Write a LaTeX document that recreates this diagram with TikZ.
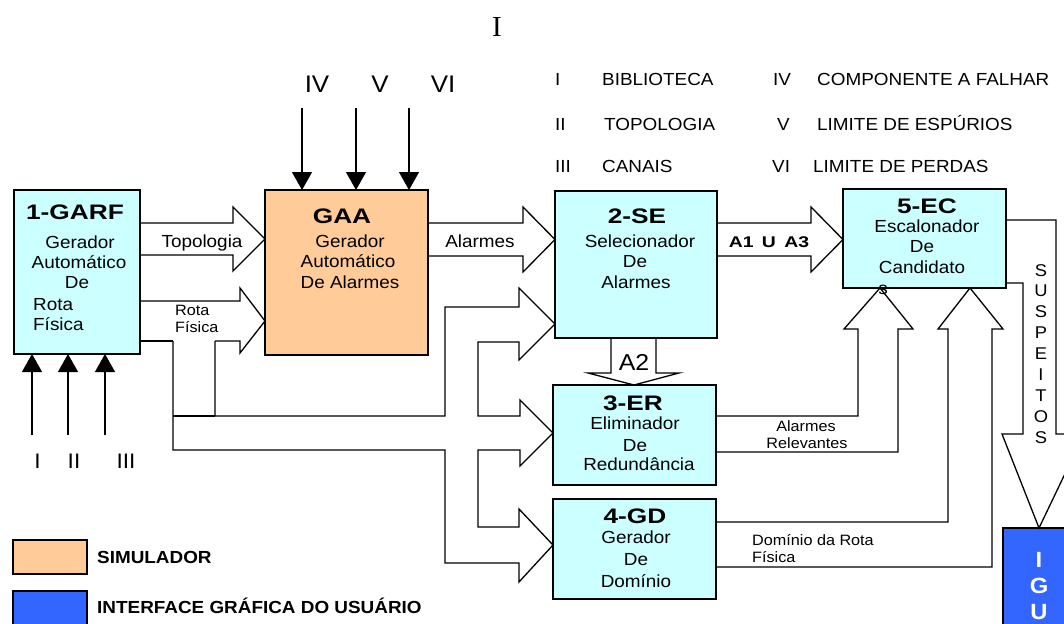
\documentclass[tikz,border=0pt]{standalone}
\usepackage{fontspec}
\setmainfont{Liberation Sans}[FakeStretch=1.08]
\newfontfamily\hdfont{Liberation Sans}[FakeStretch=1.25]
\newfontfamily\titlefont{Liberation Serif}
\usetikzlibrary{arrows.meta}
\definecolor{cyanbox}{RGB}{204,255,255}
\definecolor{simorange}{RGB}{255,204,153}
\definecolor{igublue}{RGB}{51,102,255}
\begin{document}
\begin{tikzpicture}[x=1pt,y=-1pt,
  box/.style={draw=black,line width=1.6pt,inner sep=0pt,outer sep=0pt},
  fat/.style={draw=black,line width=1.3pt,line join=miter},
  inarrow/.style={draw=black,line width=1.3pt,-{Triangle[width=20pt,length=18pt]}},
  txt/.style={anchor=base,inner sep=0pt,font=\fontsize{17.5}{20}\selectfont},
  txtl/.style={txt,anchor=base west},
  hd/.style={anchor=base,inner sep=0pt,font=\hdfont\bfseries\fontsize{21}{24}\selectfont},
  sml/.style={anchor=base west,inner sep=0pt,font=\fontsize{15}{17}\selectfont},
  smc/.style={anchor=base,inner sep=0pt,font=\fontsize{15}{17}\selectfont},
  roman/.style={anchor=base,inner sep=0pt,font=\fontsize{24}{26}\selectfont},
  romansm/.style={anchor=base,inner sep=0pt,font=\fontsize{21}{23}\selectfont},
  legtxt/.style={anchor=base west,inner sep=0pt,font=\fontsize{17.5}{20}\selectfont},
  legbold/.style={anchor=base west,inner sep=0pt,font=\bfseries\fontsize{17.5}{20}\selectfont},
  igutxt/.style={anchor=base,inner sep=0pt,text=white,font=\bfseries\fontsize{22}{24}\selectfont},
  suspl/.style={anchor=base,inner sep=0pt,font=\fontsize{17}{19}\selectfont}
]
\clip (0,0) rectangle (1064,623);
\fill[white] (0,0) rectangle (1064,623);

% ---------- boxes ----------
\node[box,fill=cyanbox,minimum width=126pt,minimum height=164pt] (garf) at (77,272) {};
\node[box,fill=simorange,minimum width=163pt,minimum height=165pt] (gaa) at (346.5,272.5) {};
\node[box,fill=cyanbox,minimum width=162pt,minimum height=147pt] (se) at (636,264.5) {};
\node[box,fill=cyanbox,minimum width=163pt,minimum height=100pt] (er) at (634.5,435) {};
\node[box,fill=cyanbox,minimum width=163pt,minimum height=100pt] (gd) at (634.5,549) {};
\node[box,fill=cyanbox,minimum width=163pt,minimum height=99pt] (ec) at (924.5,238.5) {};
\node[box,fill=igublue,minimum width=73pt,minimum height=112pt] (igu) at (1039.5,584) {};
\node[box,fill=simorange,minimum width=74pt,minimum height=34pt] (legsim) at (50,557) {};
\node[box,fill=igublue,minimum width=74pt,minimum height=40pt] (legigu) at (50,611) {};

% ---------- box texts ----------
\node[hd] (garf-h) at (75,219) {1-GARF};
\node[txt] (garf-1) at (80,248) {Gerador};
\node[txt] (garf-2) at (79,268) {Automático};
\node[txt] (garf-3) at (77,288) {De};
\node[txtl] (garf-4) at (33,310) {Rota};
\node[txtl] (garf-5) at (33,330) {Física};

\node[hd] (gaa-h) at (342,223) {GAA};
\node[txt] (gaa-1) at (350,247) {Gerador};
\node[txt] (gaa-2) at (348,267) {Automático};
\node[txt] (gaa-3) at (350,288) {De Alarmes};

\node[hd] (se-h) at (637,223) {2-SE};
\node[txt] (se-1) at (640,247) {Selecionador};
\node[txt] (se-2) at (635,267) {De};
\node[txt] (se-3) at (636,288) {Alarmes};

\node[hd] (er-h) at (633,410) {3-ER};
\node[txt] (er-1) at (635,429) {Eliminador};
\node[txt] (er-2) at (635,451) {De};
\node[txt] (er-3) at (639,470) {Redundância};

\node[hd] (gd-h) at (635,523) {4-GD};
\node[txt] (gd-1) at (636,543) {Gerador};
\node[txt] (gd-2) at (636,565) {De};
\node[txt] (gd-3) at (636,587) {Domínio};

\node[hd] (ec-h) at (927,213) {5-EC};
\node[txt] (ec-1) at (927,232) {Escalonador};
\node[txt] (ec-2) at (922,252) {De};
\node[txt] (ec-3) at (922,273) {Candidato};
\node[txt] (ec-4) at (883,294) {s};

\node[igutxt] (igu-1) at (1039,567) {I};
\node[igutxt] (igu-2) at (1039,593) {G};
\node[igutxt] (igu-3) at (1039,619) {U};

% ---------- fat arrows ----------
% Topologia
\draw[fat] (garf.east |- 0,223) -- (233,223) -- (233,207) -- (gaa.west |- 0,239)
  -- (233,271) -- (233,255) -- (garf.east |- 0,255);
\node[txt] (l-topo) at (202,247) {Topologia};
% Rota Fisica
\draw[fat] (215,341) -- (240,341) -- (240,353) -- (gaa.west |- 0,321) -- (240,288)
  -- (240,301) -- (garf.east |- 0,301);
\draw[fat] (garf.east |- 0,341) -- (173,341);
\node[sml] (l-rota1) at (175,315) {Rota};
\node[sml] (l-rota2) at (175,332) {Física};
% branch to SE, ER, GD
\draw[fat] (215,341) -- (215,416) -- (445,416) -- (445,307) -- (519,307) -- (519,288)
  -- (se.west |- 0,324) -- (519,360) -- (519,342) -- (478,342) -- (478,416)
  -- (520,416) -- (520,400) -- (er.west |- 0,433) -- (520,466) -- (520,450)
  -- (478,450) -- (478,527) -- (519,527) -- (519,509) -- (gd.west |- 0,545)
  -- (519,582) -- (519,563) -- (445,563) -- (445,450) -- (173,450) -- (173,341);
\draw[fat] (173,416) -- (215,416);
% Alarmes
\draw[fat] (gaa.east |- 0,223) -- (523,223) -- (523,207) -- (se.west |- 0,239.5)
  -- (523,272) -- (523,256) -- (gaa.east |- 0,256);
\node[txt] (l-alarm) at (480,247) {Alarmes};
% A1 U A3
\draw[fat] (se.east |- 0,223) -- (811,223) -- (811,207) -- (ec.west |- 0,239.5)
  -- (811,272) -- (811,256) -- (se.east |- 0,256);
\node[anchor=base,inner sep=0pt,font=\hdfont\bfseries\fontsize{15.5}{17}\selectfont] (l-a13) at (769,247) {A1\hspace{3pt} U\hspace{3pt} A3};
% A2
\draw[fat] (se.south -| 611,0) -- (611,373) -- (588,373) -- (er.north -| 634,0)
  -- (679,373) -- (656,373) -- (se.south -| 656,0);
\node[anchor=base,inner sep=0pt,font=\fontsize{23}{25}\selectfont] (l-a2) at (634,370) {A2};
% Alarmes Relevantes
\draw[fat] (er.east |- 0,416) -- (858,416) -- (858,329) -- (844,329) -- (ec.south -| 880,0)
  -- (913,329) -- (898,329) -- (898,452) -- (er.east |- 0,452);
\node[smc] (l-rel1) at (806,431) {Alarmes};
\node[smc] (l-rel2) at (807,448) {Relevantes};
% Dominio da Rota Fisica
\draw[fat] (gd.east |- 0,522) -- (948,522) -- (948,329) -- (938,329) -- (ec.south -| 970,0)
  -- (1003,329) -- (992,329) -- (992,567) -- (gd.east |- 0,567);
\node[sml] (l-dom1) at (752,545) {Domínio da Rota};
\node[sml] (l-dom2) at (752,562) {Física};
% Suspeitos
\draw[fat] (ec.east |- 0,220) -- (1056,220) -- (1056,434) -- (1084,434) -- (igu.north -| 1039,0)
  -- (1002,434) -- (1023,434) -- (1023,283) -- (ec.east |- 0,283);
\foreach \l [count=\i from 0] in {S,U,S,P,E,I,T,O,S}
  \node[suspl] (susp-\i) at (1041,276+20.9*\i) {\l};

% ---------- input arrows ----------
\coordinate (in4) at (302,108);
\coordinate (in5) at (356,108);
\coordinate (in6) at (409,108);
\draw[inarrow] (in4) -- (in4 |- gaa.north);
\draw[inarrow] (in5) -- (in5 |- gaa.north);
\draw[inarrow] (in6) -- (in6 |- gaa.north);
\node[roman] (r4) at (317,93) {IV};
\node[roman] (r5) at (380,93) {V};
\node[roman] (r6) at (443,93) {VI};

\coordinate (in1) at (32,435);
\coordinate (in2) at (68,435);
\coordinate (in3) at (105,435);
\draw[inarrow] (in1) -- (in1 |- garf.south);
\draw[inarrow] (in2) -- (in2 |- garf.south);
\draw[inarrow] (in3) -- (in3 |- garf.south);
\node[romansm] (r1) at (37.5,468) {I};
\node[romansm] (r2) at (74,468) {II};
\node[romansm] (r3) at (126,468) {III};

% ---------- top title ----------
\node[anchor=base,inner sep=0pt,font=\titlefont\fontsize{29}{31}\selectfont] (title) at (497,37) {I};

% ---------- key ----------
\node[legtxt] (k1a) at (555,86) {I};
\node[legtxt] (k1b) at (602,86) {BIBLIOTECA};
\node[legtxt] (k4a) at (773,86) {IV};
\node[legtxt] (k4b) at (817,86) {COMPONENTE A FALHAR};
\node[legtxt] (k2a) at (555,130) {II};
\node[legtxt] (k2b) at (604,130) {TOPOLOGIA};
\node[legtxt] (k5a) at (777,130) {V};
\node[legtxt] (k5b) at (817,130) {LIMITE DE ESPÚRIOS};
\node[legtxt] (k3a) at (555,172) {III};
\node[legtxt] (k3b) at (602,172) {CANAIS};
\node[legtxt] (k6a) at (772,172) {VI};
\node[legtxt] (k6b) at (813,172) {LIMITE DE PERDAS};

% ---------- legend ----------
\node[legbold] (legsim-t) at (97,563) {SIMULADOR};
\node[legbold] (legigu-t) at (97,613) {INTERFACE GRÁFICA DO USUÁRIO};
\end{tikzpicture}
\end{document}
